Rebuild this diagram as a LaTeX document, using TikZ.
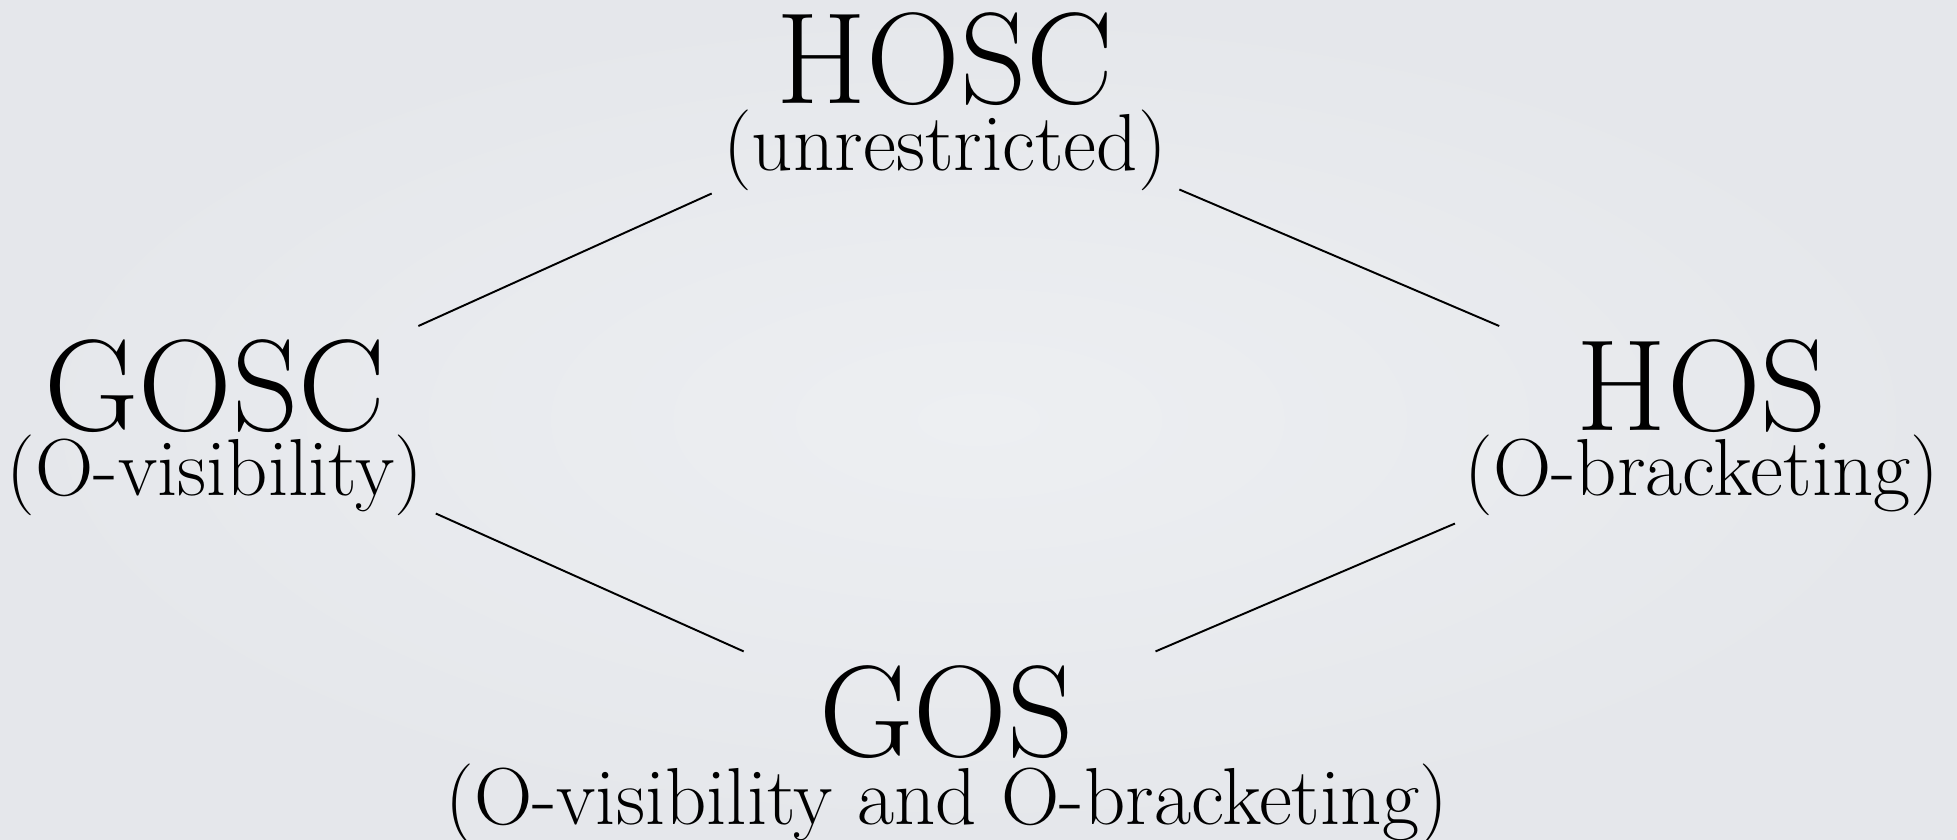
\documentclass[tikz,border=0pt]{standalone}
\usetikzlibrary{positioning}
\definecolor{bgin}{RGB}{237,239,242}
\definecolor{bgout}{RGB}{229,231,235}
\begin{document}
\begin{tikzpicture}[
  title/.style={font=\fontsize{37}{40}\selectfont,inner sep=0pt,anchor=base},
  sub/.style={font=\fontsize{23}{25}\selectfont,inner sep=0pt,anchor=base},
  link/.style={line width=0.55pt,black}]
\useasboundingbox (0,0) rectangle (19.57,8.39);
\shade[inner color=bgin,outer color=bgout] (0,0) rectangle (19.57,8.39);
% lattice corners
\node[title] (hosc) at (9.45,7.354) {HOSC};
\node[sub] (hoscsub) at ([yshift=-0.67cm]hosc.base) {(unrestricted)};
\node[title] (gosc) at (2.15,4.084) {GOSC};
\node[sub] (goscsub) at ([yshift=-0.65cm]gosc.base) {(O-visibility)};
\node[title] (hos) at (17.02,4.084) {HOS};
\node[sub] (hossub) at ([yshift=-0.65cm]hos.base) {(O-bracketing)};
\node[title] (gos) at (9.466,0.83) {GOS};
\node[sub] (gossub) at ([yshift=-0.68cm]gos.base) {(O-visibility and O-bracketing)};
% edges
\draw[link] ([shift={(0.32,0.13)}]gosc.north east) -- ([shift={(-0.11,-0.02)}]hoscsub.south west);
\draw[link] ([shift={(0.12,0.02)}]hoscsub.south east) -- ([shift={(-0.77,0.13)}]hos.north west);
\draw[link] ([shift={(0.12,0.03)}]goscsub.south east) -- ([shift={(-0.75,0.13)}]gos.north west);
\draw[link] ([shift={(-0.09,-0.07)}]hossub.south west) -- ([shift={(0.81,0.13)}]gos.north east);
\end{tikzpicture}
\end{document}
